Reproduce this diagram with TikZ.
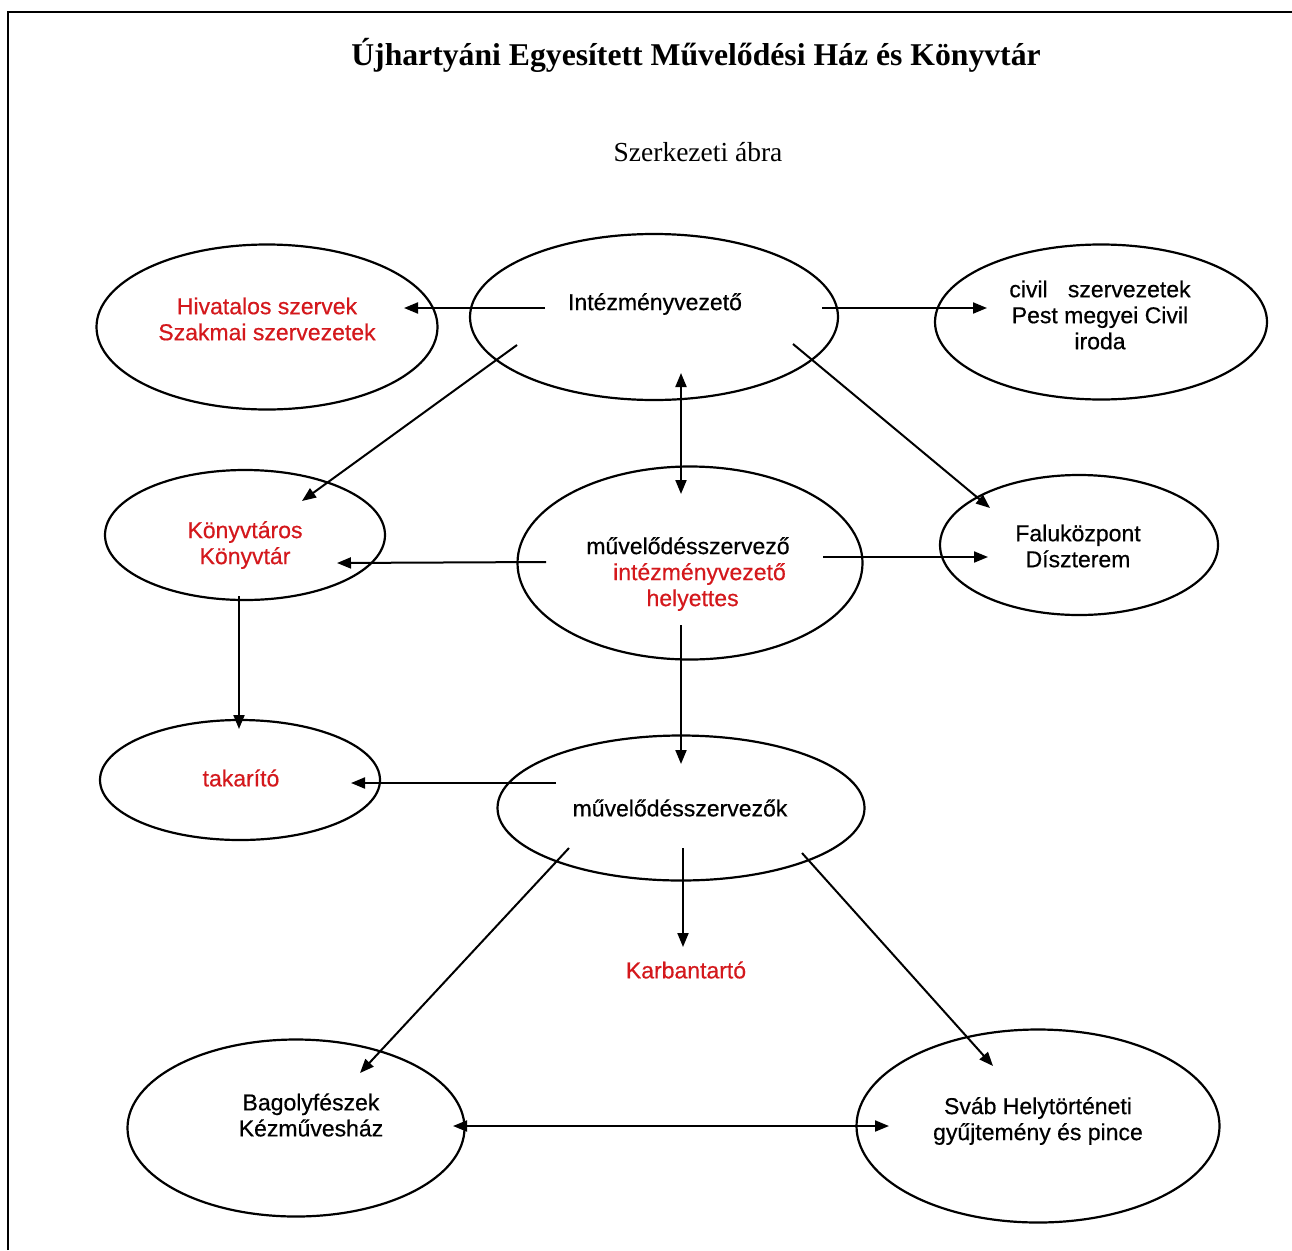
\documentclass[tikz,border=0pt]{standalone}
\usepackage{fontspec}
\setmainfont{Liberation Serif}
\newfontfamily\lblfont{Liberation Sans}[BoldFont={Liberation Sans},BoldFeatures={FakeBold=0.5}]
\usetikzlibrary{arrows.meta,shapes.geometric}
\definecolor{myred}{RGB}{212,24,28}
\tikzset{
  ell/.style={draw, ellipse, line width=2.2pt, inner sep=0pt},
  lbl/.style={font=\lblfont\bfseries\fontsize{23}{26}\selectfont, align=center, inner sep=0pt},
  redlbl/.style={lbl, text=myred},
  conn/.style={line width=2pt, -{Triangle[length=14pt,width=11pt]}},
  bconn/.style={line width=2pt, {Triangle[length=14pt,width=11pt]}-{Triangle[length=14pt,width=11pt]}},
}
\begin{document}
\begin{tikzpicture}[x=1pt,y=-1pt]
\useasboundingbox (0,0) rectangle (1292,1250);
\fill[white] (0,0) rectangle (1292,1250);
% frame
\draw[line width=2.2pt] (8,1250) -- (8,12) -- (1292,12);
% titles
\node[font=\bfseries\fontsize{31.7}{36}\selectfont] (title) at (696,55) {Újhartyáni Egyesített Művelődési Ház és Könyvtár};
\node[font=\fontsize{27.5}{32}\selectfont] (sub) at (698,152) {Szerkezeti ábra};
% ellipses
\node[ell, minimum width=341pt, minimum height=165pt] (hiv) at (267,327) {};
\node[ell, minimum width=368pt, minimum height=166pt] (iv) at (654,317) {};
\node[ell, minimum width=332pt, minimum height=155pt] (civ) at (1101,322) {};
\node[ell, minimum width=280pt, minimum height=130pt] (kt) at (245,535) {};
\node[ell, minimum width=345pt, minimum height=193pt] (msz) at (690,563) {};
\node[ell, minimum width=278pt, minimum height=140pt] (fk) at (1079,545) {};
\node[ell, minimum width=280pt, minimum height=120pt] (tak) at (240,780) {};
\node[ell, minimum width=367pt, minimum height=145pt] (mszk) at (681,808) {};
\node[ell, minimum width=337pt, minimum height=177pt] (bag) at (296,1128) {};
\node[ell, minimum width=363pt, minimum height=193pt] (svab) at (1038,1126) {};
% texts
\node[redlbl] (thiv) at (267,319) {Hivatalos szervek\\Szakmai szervezetek};
\node[lbl] (tiv) at (655,304) {Intézményvezető};
\node[lbl] (tciv) at (1100,315) {civil\hspace{0.6em} szervezetek\\Pest megyei Civil\\iroda};
\node[redlbl] (tkt) at (245,545) {Könyvtáros\\Könyvtár};
\node[lbl] (tmsz) at (688,574) {művelődésszervező\\\textcolor{myred}{\hspace{1.0em}intézményvezető}\\\textcolor{myred}{\hspace{0.4em}helyettes}};
\node[lbl] (tfk) at (1078,546) {Faluközpont\\Díszterem};
\node[redlbl] (ttak) at (241,778) {takarító};
\node[lbl] (tmszk) at (680,808) {művelődésszervezők};
\node[redlbl] (karb) at (686,970) {Karbantartó};
\node[lbl] (tbag) at (311,1115) {Bagolyfészek\\Kézművesház};
\node[lbl] (tsvab) at (1038,1121) {Sváb Helytörténeti\\gyűjtemény és pince};
% connector end points
\coordinate (a1) at (545,308); \coordinate (a2) at (404,308);
\coordinate (b1) at (822,308); \coordinate (b2) at (987,308);
\coordinate (c1) at (517,345); \coordinate (c2) at (302,501);
\coordinate (d1) at (681,373); \coordinate (d2) at (681,494);
\coordinate (e1) at (793,344); \coordinate (e2) at (990,508);
\coordinate (f1) at (546,562); \coordinate (f2) at (337,563);
\coordinate (g1) at (823,557); \coordinate (g2) at (988,557);
\coordinate (h1) at (681,625); \coordinate (h2) at (681,764);
\coordinate (i1) at (239,596); \coordinate (i2) at (239,729);
\coordinate (j1) at (556,783); \coordinate (j2) at (351,783);
\coordinate (k1) at (683,848); \coordinate (k2) at (683,947);
\coordinate (l1) at (569,848); \coordinate (l2) at (360,1073);
\coordinate (m1) at (802,853); \coordinate (m2) at (993,1066);
\coordinate (n1) at (453,1126); \coordinate (n2) at (889,1126);
% connectors
\draw[conn] (a1) -- (a2);
\draw[conn] (b1) -- (b2);
\draw[conn] (c1) -- (c2);
\draw[bconn] (d1) -- (d2);
\draw[conn] (e1) -- (e2);
\draw[conn] (f1) -- (f2);
\draw[conn] (g1) -- (g2);
\draw[conn] (h1) -- (h2);
\draw[conn] (i1) -- (i2);
\draw[conn] (j1) -- (j2);
\draw[conn] (k1) -- (k2);
\draw[conn] (l1) -- (l2);
\draw[conn] (m1) -- (m2);
\draw[bconn] (n1) -- (n2);
\end{tikzpicture}
\end{document}
